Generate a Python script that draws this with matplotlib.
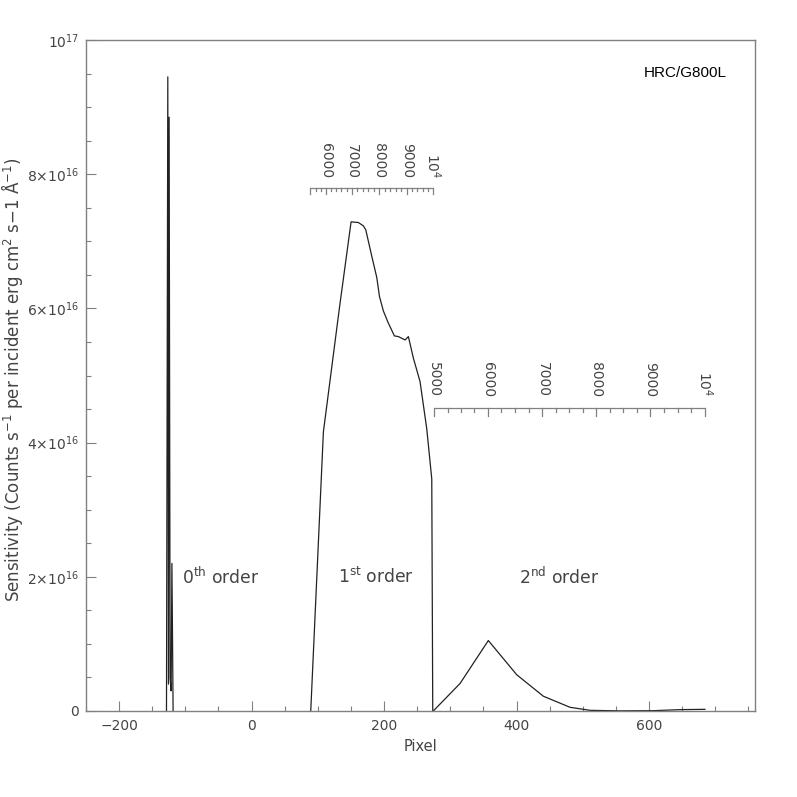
import matplotlib
matplotlib.use("Agg")
import matplotlib.pyplot as plt
from matplotlib.ticker import FuncFormatter, MultipleLocator
import numpy as np

# ---------------- data ----------------
# zeroth order (pixel, sensitivity)
order0_px = [-128.5, -126.5, -125.5, -124.5, -123.0, -121.5, -120.3, -118.5]
order0_sens = [0, 9.45e16, 0.4e16, 8.85e16, 0.5e16, 0.3e16, 2.2e16, 0]

# first order
order1_px = [89.3, 108.4, 132.5, 150.2, 161.2, 168.8, 172.4, 181.4, 189.0, 193.0,
             199.0, 206.5, 215.6, 221.6, 231.7, 236.7, 244.2, 254.3, 264.4, 272.0, 273.5]
order1_sens = [0, 41.6e15, 60.0e15, 72.9e15, 72.8e15, 72.3e15, 71.7e15, 67.8e15, 64.6e15,
               61.8e15, 59.6e15, 57.8e15, 55.9e15, 55.8e15, 55.3e15, 55.8e15, 52.6e15,
               49.1e15, 42.1e15, 34.6e15, 0]

# second order
order2_px = [274.3, 314.7, 357.4, 400.3, 440.5, 480.8, 511.0, 556.0, 606.5, 646.8, 684.5]
order2_sens = [0, 4.1e15, 10.5e15, 5.4e15, 2.2e15, 0.55e15, 0.1e15, 0.02e15, 0.05e15,
               0.2e15, 0.25e15]

# wavelength scales (wavelength in Angstrom -> pixel)
scale1_wave = [5400, 6000, 7000, 8000, 9000, 10000]
scale1_px = [88.8, 112.5, 151.2, 192.9, 234.3, 274.4]
scale1_labels = ["6000", "7000", "8000", "9000", "10$^{4}$"]
scale1_level = 7.8e16

scale2_wave = [5000, 6000, 7000, 8000, 9000, 10000]
scale2_px = [275.5, 356.6, 439.0, 520.0, 601.5, 684.5]
scale2_labels = ["5000", "6000", "7000", "8000", "9000", "10$^{4}$"]
scale2_level = 4.52e16

order_labels = ["0$^{\\rm th}$ order", "1$^{\\rm st}$ order", "2$^{\\rm nd}$ order"]
order_label_px = [-47.5, 188, 464]
order_label_y = 2.0e16

title_text = "HRC/G800L"

# ---------------- figure ----------------
plt.rcParams['font.family'] = ['DejaVu Sans']
plt.rcParams['mathtext.fontset'] = 'dejavusans'
TXT = '#444444'
SPN = '#808080'

fig = plt.figure(figsize=(7.97, 7.97), dpi=100)
ax = fig.add_axes([86/797, 1-711/797, (755-86)/797, (711-40)/797])

lc = '#222222'
ax.plot(order0_px, order0_sens, color=lc, lw=0.9)
ax.plot(order1_px, order1_sens, color=lc, lw=0.9)
ax.plot(order2_px, order2_sens, color=lc, lw=0.9)

ax.set_xlim(-250, 760)
ax.set_ylim(0, 1e17)

for s in ax.spines.values():
    s.set_color(SPN)
    s.set_linewidth(1.0)

ax.xaxis.set_major_locator(MultipleLocator(200))
ax.xaxis.set_minor_locator(MultipleLocator(50))
ax.yaxis.set_major_locator(MultipleLocator(2e16))
ax.yaxis.set_minor_locator(MultipleLocator(0.5e16))
ax.tick_params(which='both', direction='in', color=SPN, top=False, right=False,
               labelcolor=TXT, labelsize=10)
ax.tick_params(which='major', length=7, width=0.8)
ax.tick_params(which='minor', length=3.5, width=0.8)
ax.tick_params(axis='y', pad=5)
ax.tick_params(axis='x', pad=6)


def yfmt(v, pos):
    if abs(v) < 1:
        return "0"
    if abs(v - 1e17) < 1e14:
        return "10$^{17}$"
    m = v / 1e16
    return "%d$\\times$10$^{16}$" % round(m)


def xfmt(v, pos):
    return "\u2212%d" % abs(v) if v < 0 else "%d" % v


ax.yaxis.set_major_formatter(FuncFormatter(yfmt))
ax.xaxis.set_major_formatter(FuncFormatter(xfmt))

ax.set_xlabel("Pixel", color=TXT, fontsize=10.5, labelpad=4)
ax.set_ylabel("Sensitivity (Counts s$^{-1}$ per incident erg cm$^{2}$ s\u22121 \u00c5$^{-1}$)",
              color=TXT, fontsize=12)
ax.yaxis.set_label_coords((25 - 86) / 669, (711 - 380) / 671)

# px per data unit in y
ypx = 1e17 / (711 - 40)


def draw_scale(waves, pixels, level, labels, step, major_len, minor_len, gap):
    ax.plot([pixels[0], pixels[-1]], [level, level], color=SPN, lw=0.9, solid_capstyle='butt')
    w0, w1 = waves[0], waves[-1]
    grid = np.arange(w0, w1 + 1, step)
    pos = np.interp(grid, waves, pixels)
    for w, p in zip(grid, pos):
        L = major_len if (w % 1000 == 0 or w == w0) else minor_len
        ax.plot([p, p], [level, level - L * ypx], color=SPN, lw=0.9)
    major_w = [w for w in waves if w % 1000 == 0]
    major_p = np.interp(major_w, waves, pixels)
    for p, lab in zip(major_p, labels):
        ax.text(p, level + gap * ypx, lab, rotation=-90, ha='center', va='bottom',
                color=TXT, fontsize=10)


draw_scale(scale1_wave, scale1_px, scale1_level, scale1_labels, 200, 6, 3, 9)
draw_scale(scale2_wave, scale2_px, scale2_level, scale2_labels, 250, 8, 4, 11)

for lab, px in zip(order_labels, order_label_px):
    ax.text(px, order_label_y, lab, ha='center', va='center', color=TXT, fontsize=12.3)

ax.text((727 - 86) / 669, (711 - 73) / 671, title_text, transform=ax.transAxes,
        ha='right', va='center', fontsize=11, color='black',
        family=['Liberation Sans', 'DejaVu Sans'])

fig.savefig("out.png", dpi=100)
